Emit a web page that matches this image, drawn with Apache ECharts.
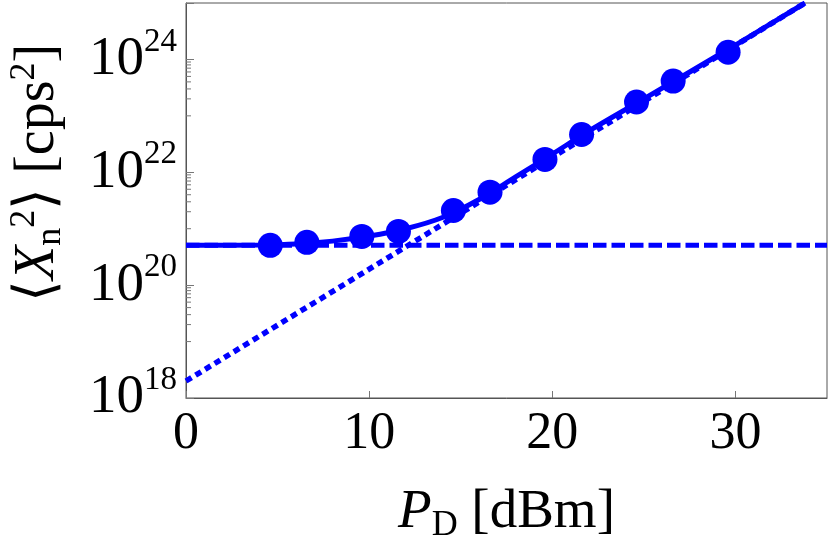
<!DOCTYPE html>
<html><head><meta charset="utf-8">
<script src="https://cdn.jsdelivr.net/npm/echarts@6/dist/echarts.min.js"></script>
<style>html,body{margin:0;padding:0;background:#fff}#c{width:830px;height:546px}</style>
</head><body><div id="c"></div>
<script>
// measured points (P_D in dBm, <X_n^2> in cps^2)
const markerX = [4.6, 6.6, 9.6, 11.6, 14.6, 16.6, 19.6, 21.6, 24.6, 26.6, 29.6];
const markerY = [5.08e20, 5.73e20, 7.31e20, 8.95e20, 2.10e21, 4.44e21, 1.69e22, 4.68e22, 1.76e23, 4.13e23, 1.34e24];
// full model curve (solid)
const curveX = [0, 4, 6, 8, 10, 12, 14, 16, 18, 20, 22, 25, 30, 33.8];
const curveY = [5.08e20, 5.15e20, 5.37e20, 6.03e20, 7.41e20, 1.0e21, 1.58e21, 3.3e21, 8.3e21, 2.1e22, 5.4e22, 2.0e23, 1.8e24, 1.0e25];
// noise floor (dashed)
const floorX = [0, 35];
const floorY = [5.08e20, 5.08e20];
// signal-only asymptote (dotted)
const slopeX = [0, 33.8];
const slopeY = [2.0e18, 1.0e25];
// axis ticks
const xTicks = [0, 10, 20, 30];
const yTickExponents = [18, 20, 22, 24];
const minorMantissas = [1, 2, 3, 4, 5, 6, 7, 8, 9];
const minorExponents = [19, 21, 23];

const BLUE = '#0000ff';
const FONT = 'Liberation Serif';
const minorTicks = [];
minorExponents.forEach(e => minorMantissas.forEach(m => minorTicks.push([0, m * Math.pow(10, e)])));

const chart = echarts.init(document.getElementById('c'), null, {renderer: 'canvas'});
chart.setOption({
  animation: false,
  backgroundColor: '#ffffff',
  grid: {left: 186, right: 3, top: 3, bottom: 148, show: true, borderColor: '#555', borderWidth: 1, outerBoundsMode: 'none', containLabel: false},
  xAxis: {
    type: 'value', min: 0, max: 35, interval: 10,
    axisLine: {show: true, lineStyle: {color: '#555', width: 1}},
    axisTick: {show: true, inside: true, length: 7, lineStyle: {color: '#777'}},
    splitLine: {show: false},
    axisLabel: {
      showMaxLabel: false, margin: 10, color: '#000', fontFamily: FONT, fontSize: 52,
      formatter: v => xTicks.indexOf(v) >= 0 ? String(v) : ''
    },
    name: '{i|P}{sub|D}{r| [dBm]}',
    nameLocation: 'middle', nameGap: 84,
    nameTextStyle: {
      color: '#000', fontFamily: FONT, fontSize: 55,
      rich: {
        i: {fontFamily: FONT, fontSize: 55, fontStyle: 'italic', lineHeight: 62, color: '#000'},
        sub: {fontFamily: FONT, fontSize: 36, lineHeight: 38, verticalAlign: 'bottom', color: '#000'},
        r: {fontFamily: FONT, fontSize: 55, lineHeight: 62, color: '#000'}
      }
    }
  },
  yAxis: {
    type: 'log', logBase: 100, min: 1e18, max: 1e25,
    axisLine: {show: true, lineStyle: {color: '#555', width: 1}},
    axisTick: {show: true, inside: true, length: 8, lineStyle: {color: '#777'}},
    splitLine: {show: false},
    minorTick: {show: false},
    axisLabel: {
      margin: 9, color: '#000',
      formatter: v => {
        const e = Math.round(Math.log10(v));
        return yTickExponents.indexOf(e) >= 0 ? '{b|10}{s|' + e + '}' : '';
      },
      rich: {
        b: {fontFamily: FONT, fontSize: 55, lineHeight: 68, color: '#000'},
        s: {fontFamily: FONT, fontSize: 33, lineHeight: 33, verticalAlign: 'top', color: '#000'}
      }
    },
    name: '{g| }{a|\u27E8}{i|X}{sub|n}{sup|2}{a|\u27E9 [cps}{sup|2}{a|]}',
    nameLocation: 'middle', nameGap: 117, nameRotate: 90,
    nameTextStyle: {
      color: '#000', fontFamily: FONT, fontSize: 56,
      rich: {
        g: {fontFamily: FONT, fontSize: 20, width: 55, lineHeight: 62},
        a: {fontFamily: FONT, fontSize: 56, lineHeight: 62, color: '#000'},
        i: {fontFamily: FONT, fontSize: 56, fontStyle: 'italic', lineHeight: 62, color: '#000'},
        sub: {fontFamily: FONT, fontSize: 36, lineHeight: 38, verticalAlign: 'bottom', color: '#000'},
        sup: {fontFamily: FONT, fontSize: 36, lineHeight: 38, verticalAlign: 'top', color: '#000'}
      }
    }
  },
  series: [
    {
      type: 'custom', silent: true, z: 1, clip: false,
      data: minorTicks,
      renderItem: (params, api) => {
        const p = api.coord([0, api.value(1)]);
        return {type: 'line', shape: {x1: p[0], y1: p[1], x2: p[0] + 5, y2: p[1]}, style: {stroke: '#777', lineWidth: 1}};
      }
    },
    {
      type: 'line', name: 'floor', z: 2, showSymbol: false, symbol: 'none',
      data: floorX.map((x, i) => [x, floorY[i]]),
      lineStyle: {color: BLUE, width: 5, type: [13.5, 5], cap: 'butt'}
    },
    {
      type: 'line', name: 'slope', z: 2, showSymbol: false, symbol: 'none',
      data: slopeX.map((x, i) => [x, slopeY[i]]),
      lineStyle: {color: BLUE, width: 5.5, type: [6.5, 4.7], cap: 'butt'}
    },
    {
      type: 'line', name: 'model', z: 3, showSymbol: false, symbol: 'none', smooth: 0.35,
      data: curveX.map((x, i) => [x, curveY[i]]),
      lineStyle: {color: BLUE, width: 5}
    },
    {
      type: 'scatter', name: 'data', z: 4,
      data: markerX.map((x, i) => [x, markerY[i]]),
      symbol: 'circle', symbolSize: 25,
      itemStyle: {color: BLUE, opacity: 1}
    }
  ]
});
</script>
</body></html>
